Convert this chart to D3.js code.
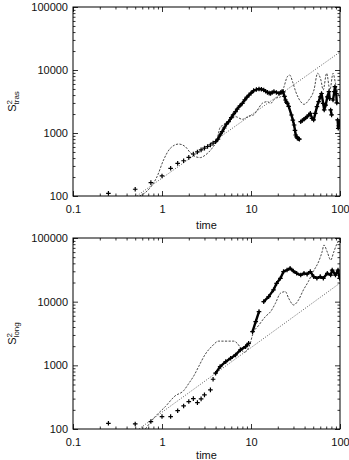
<!DOCTYPE html>
<html><head><meta charset="utf-8">
<script src="https://cdn.jsdelivr.net/npm/d3@7"></script>
<style>
body{margin:0;background:#fff;}
svg{display:block;font-family:"Liberation Sans",Arial,Helvetica,sans-serif;}
</style></head><body>
<svg id="c" width="349" height="460"></svg>
<script>
// ---- data ----
const xTicks = [0.1, 1, 10, 100];
const xTickLabels = ["0.1", "1", "10", "100"];
const yTicks = [100, 1000, 10000, 100000];
const yTickLabels = ["100", "1000", "10000", "100000"];
const xTitle = "time";

// top panel (S^2 tras)
const fitTras = [[0.52, 100], [100, 19300]];
const dashedTras = [[0.56,100],[0.68,120],[0.88,203],[1.04,372],[1.24,572],[1.54,668],[1.83,606],[2.08,487],[2.37,421],[2.7,407],[3.07,447],[3.65,572],[4.15,776],[4.5,1230],[4.9,1340],[5.4,1500],[5.9,1610],[6.7,1815],[8.0,1650],[9.4,1850],[10.7,1940],[11.8,2320],[13.4,2960],[15.3,3150],[16.6,2960],[18.8,3560],[21.4,3740],[23.5,5430],[25.6,7830],[27.3,8300],[29.3,6530],[31.8,4530],[36.2,3140],[39.4,2850],[44.6,3340],[51,4820],[56,8870],[61,6940],[64.7,4820],[70.8,8870],[77,4820],[83.5,8870],[89,6150],[95,4240],[100,3600]];
const crossesTras = [[0.25,110],[0.5,128],[0.75,163],[1.0,208],[1.25,275],[1.5,330],[1.75,363],[2.0,411],[2.25,464],[2.5,500],[2.75,540],[3.0,575],[3.25,610],[3.5,645],[3.75,690],[4.0,728],[4.25,800],[4.5,930],[4.75,1050],[5.0,1200],[5.3,1380],[5.6,1510],[6.0,1750],[6.3,1950],[6.7,2180],[7.0,2400],[7.5,2700],[8.0,2960],[8.5,3350],[9.0,3700],[9.5,4010],[10.0,4300],[10.7,4700],[11.5,4900],[12.3,4990],[13.1,4950],[13.9,4820],[14.6,4600],[15.3,4420],[16.0,4300],[16.6,4240],[17.3,4400],[18.1,4530],[19.3,4400],[20.6,4240],[21.5,4400],[22.3,4530],[23.0,4500],[23.8,3800],[24.4,3340],[25.0,3100],[25.6,2960],[26.5,2650],[28.5,1930],[29.5,1600],[30.5,1340],[31.2,1100],[31.8,930],[32.5,870],[33.2,830],[34,810],[35,800],[36.2,1510],[37.8,1580],[39.4,1650],[41,1730],[42.7,1815],[44.5,1930],[46.4,2050],[48.5,1700],[50.6,1610],[52.8,2050],[55.1,2620],[57.5,3140],[60,3740],[62,4240],[64.7,2960],[66.5,2320],[69.1,2780],[72.1,3740],[75.2,4530],[76.5,3500],[78.5,2320],[80.5,1940],[83.5,3340],[86.4,4530],[87.7,5430],[90.7,4240],[92,3000],[94,1610],[95.6,1188],[97,1300],[99,1510]];

// bottom panel (S^2 long)
const fitLong = [[0.55, 100], [100, 19600]];
const dashedLong = [[0.65,100],[0.84,157],[1.09,225],[1.4,330],[1.75,400],[2.0,520],[2.3,700],[2.58,955],[3.07,1500],[3.65,2000],[4.33,2400],[5.4,2400],[6.4,2400],[7.0,2220],[7.6,1900],[8.3,1600],[9.1,1750],[9.8,2200],[10.4,3000],[12.3,4300],[14.5,5820],[16.6,6970],[18.8,9420],[21.4,13550],[24.3,14400],[26.5,11300],[30.1,8870],[34.2,10640],[38.8,15270],[44,20600],[50,29600],[57.5,42500],[63,61000],[66,77600],[72,60000],[78.6,45000],[85,60000],[92,80000],[98,93000],[100,100000]];
const crossesLong = [[0.25,123],[0.5,120],[0.75,131],[1.0,157],[1.25,157],[1.5,194],[1.75,230],[2.0,270],[2.25,300],[2.5,260],[2.75,297],[3.0,343],[3.5,411],[3.75,605],[4.0,752],[4.5,955],[5.2,1143],[5.9,1290],[6.7,1456],[7.6,1750],[8.7,1967],[9.4,2220],[10.4,3380],[11.3,4850],[12.3,6970],[13.9,10000],[15.8,12000],[17.9,15300],[19.4,19400],[21.4,23300],[23.2,29600],[25.4,31400],[27.5,33500],[29.9,30300],[32.6,27900],[36.2,26200],[39.4,27900],[42.7,27100],[46.4,29600],[50.6,24700],[55,23300],[60,24700],[65,23300],[72,27900],[78.5,26200],[81.7,31400],[89,26200],[95,31400],[99,23300]];

// ---- drawing ----
const svg = d3.select("#c");
const x = d3.scaleLog().domain([0.1, 100]).range([73, 340]);

function minorTicks(lo, hi) {
  const out = [];
  for (let e = Math.floor(Math.log10(lo)); e < Math.ceil(Math.log10(hi)); e++)
    for (let m = 2; m <= 9; m++) { const v = m * Math.pow(10, e); if (v > lo && v < hi) out.push(v); }
  return out;
}

function panel(id, yTop, yBot, fit, dashed, crosses, sub, titleY) {
  const y = d3.scaleLog().domain([100, 100000]).range([yBot, yTop]);
  const g = svg.append("g");
  const x0 = x.range()[0], x1 = x.range()[1];
  const fmtX = d => xTickLabels[xTicks.indexOf(d)];
  const fmtY = d => yTickLabels[yTicks.indexOf(d)];

  const styleAxis = a => { a.select(".domain").remove(); a.selectAll("line").attr("stroke", "#000").attr("stroke-width", 0.8);
    a.selectAll("text").attr("font-size", 11).attr("fill", "#111").attr("font-family", "'Liberation Sans',Arial,sans-serif"); };

  // bottom axis
  g.append("g").attr("transform", `translate(0,${yBot})`).call(d3.axisBottom(x).tickValues(xTicks).tickFormat(fmtX).tickSize(-5).tickPadding(9)).call(styleAxis);
  g.append("g").attr("transform", `translate(0,${yBot})`).call(d3.axisBottom(x).tickValues(minorTicks(0.1, 100)).tickFormat("").tickSize(-2.5)).call(styleAxis);
  // top axis
  g.append("g").attr("transform", `translate(0,${yTop})`).call(d3.axisTop(x).tickValues(xTicks).tickFormat("").tickSize(-5)).call(styleAxis);
  g.append("g").attr("transform", `translate(0,${yTop})`).call(d3.axisTop(x).tickValues(minorTicks(0.1, 100)).tickFormat("").tickSize(-2.5)).call(styleAxis);
  // left axis
  g.append("g").attr("transform", `translate(${x0},0)`).call(d3.axisLeft(y).tickValues(yTicks).tickFormat(fmtY).tickSize(-5).tickPadding(5)).call(styleAxis);
  g.append("g").attr("transform", `translate(${x0},0)`).call(d3.axisLeft(y).tickValues(minorTicks(100, 100000)).tickFormat("").tickSize(-2.5)).call(styleAxis);
  // right axis
  g.append("g").attr("transform", `translate(${x1},0)`).call(d3.axisRight(y).tickValues(yTicks).tickFormat("").tickSize(-5)).call(styleAxis);
  g.append("g").attr("transform", `translate(${x1},0)`).call(d3.axisRight(y).tickValues(minorTicks(100, 100000)).tickFormat("").tickSize(-2.5)).call(styleAxis);

  // clip
  svg.append("clipPath").attr("id", "clip" + id).append("rect")
    .attr("x", x0).attr("y", yTop).attr("width", x1 - x0).attr("height", yBot - yTop);
  const pg = g.append("g").attr("clip-path", `url(#clip${id})`);
  const line = d3.line().x(d => x(d[0])).y(d => y(d[1]));

  pg.append("path").attr("d", line(fit)).attr("fill", "none").attr("stroke", "#333").attr("stroke-width", 0.8).attr("stroke-dasharray", "1,1.6");
  pg.append("path").attr("d", d3.line().curve(d3.curveMonotoneX).x(d => x(d[0])).y(d => y(d[1]))(dashed))
    .attr("fill", "none").attr("stroke", "#333").attr("stroke-width", 0.9).attr("stroke-dasharray", "2.2,1.4");

  // dense crosses drawn as thick connected runs
  const segs = []; let cur = [];
  for (let i = 0; i < crosses.length; i++) {
    const p = crosses[i];
    if (p[0] < 4) continue;
    if (cur.length) {
      const q = cur[cur.length - 1];
      const dist = Math.hypot(x(p[0]) - x(q[0]), y(p[1]) - y(q[1]));
      if (dist > 11) { segs.push(cur); cur = []; }
    }
    cur.push(p);
  }
  if (cur.length) segs.push(cur);
  pg.selectAll("path.seg").data(segs).join("path").attr("class", "seg").attr("d", line)
    .attr("fill", "none").attr("stroke", "#000").attr("stroke-width", 2.4).attr("stroke-linejoin", "round").attr("stroke-linecap", "round");
  pg.selectAll("path.cr").data(crosses).join("path").attr("class", "cr")
    .attr("transform", d => `translate(${x(d[0])},${y(d[1])})`)
    .attr("d", "M-2.3,0H2.3M0,-2.3V2.3").attr("stroke", "#000").attr("stroke-width", 1.2);

  // frame
  g.append("rect").attr("x", x0).attr("y", yTop).attr("width", x1 - x0).attr("height", yBot - yTop)
    .attr("fill", "none").attr("stroke", "#000").attr("stroke-width", 1);

  // titles
  g.append("text").attr("x", (x0 + x1) / 2).attr("y", titleY).attr("text-anchor", "middle")
    .attr("font-size", 11).attr("fill", "#111").text(xTitle);
  const cy = (yTop + yBot) / 2;
  const t = g.append("text").attr("transform", `translate(16,${cy}) rotate(-90)`).attr("text-anchor", "middle")
    .attr("font-size", 11).attr("fill", "#111");
  t.append("tspan").text("S");
  t.append("tspan").attr("font-size", 8).attr("dy", -4.5).text("2");
  t.append("tspan").attr("font-size", 8).attr("dx", -4.4).attr("dy", 7.5).text(sub);
}

panel("a", 7, 196, fitTras, dashedTras, crossesTras, "tras", 229);
panel("b", 238, 429, fitLong, dashedLong, crossesLong, "long", 459);
</script>
</body></html>
